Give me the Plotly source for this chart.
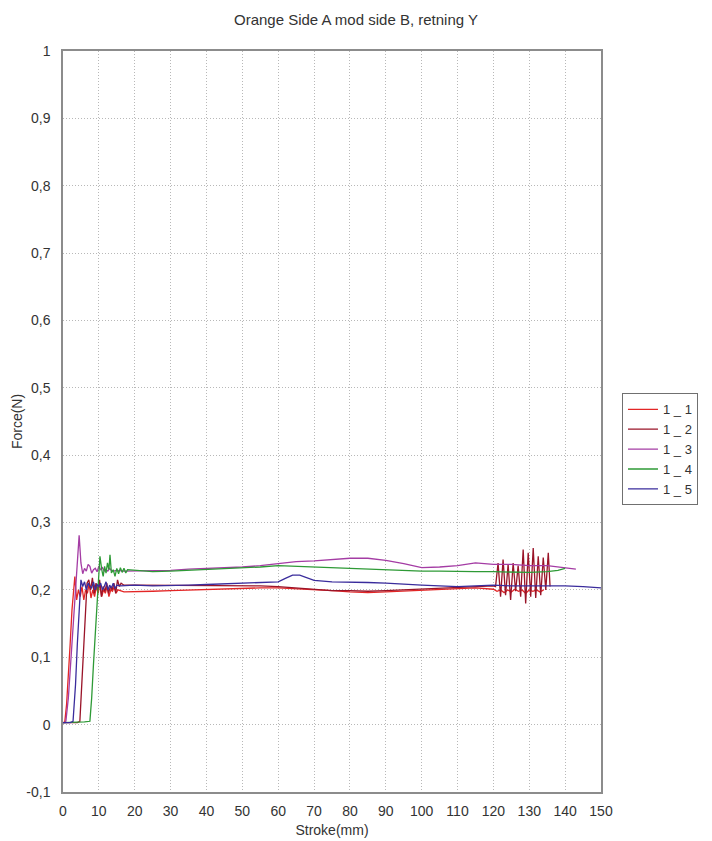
import plotly.graph_objects as go

# ---------------- data ----------------
names = ["1 _ 1", "1 _ 2", "1 _ 3", "1 _ 4", "1 _ 5"]
colors = ["#e32626", "#9a1428", "#a43ca4", "#2e9a36", "#3a2c9c"]

x_1_1 = [0, 0.5, 1, 1.5, 2, 2.5, 3, 3.3, 3.8, 4.3, 4.8, 5.3, 5.8, 6.3, 6.8, 7.3, 7.8, 8.3, 8.8, 9.3,
         9.8, 10.3, 10.8, 11.3, 11.8, 12.3, 12.8, 13.3, 13.8, 14.3, 14.8, 15.3, 17, 20, 25, 30, 35, 40,
         45, 50, 55, 60, 65, 70, 75, 80, 85, 90, 95, 100, 105, 110, 115, 120, 121, 122, 123, 124, 125,
         126, 127, 128, 129, 130, 131, 132, 133, 134]
y_1_1 = [0.003, 0.004, 0.03, 0.07, 0.12, 0.17, 0.205, 0.22, 0.185, 0.2, 0.19, 0.205, 0.185, 0.2, 0.195,
         0.21, 0.188, 0.2, 0.19, 0.205, 0.195, 0.21, 0.19, 0.2, 0.195, 0.205, 0.19, 0.2, 0.198, 0.205,
         0.195, 0.2, 0.197, 0.197, 0.198, 0.199, 0.2, 0.201, 0.201, 0.202, 0.203, 0.203, 0.202, 0.2,
         0.199, 0.197, 0.196, 0.197, 0.198, 0.2, 0.201, 0.202, 0.203, 0.201, 0.198, 0.2, 0.196, 0.2,
         0.197, 0.201, 0.198, 0.2, 0.195, 0.2, 0.198, 0.2, 0.197, 0.2]

x_1_2 = [0, 2, 4, 4.7, 5.2, 5.7, 6.2, 6.7, 7.2, 7.7, 8.2, 8.7, 9.2, 9.7, 10.2, 10.7, 11.2, 11.7, 12.2,
         12.7, 13.2, 13.7, 14.2, 14.7, 15.2, 15.7, 16.2, 17, 20, 25, 30, 35, 40, 45, 50, 55, 60, 65, 70,
         75, 80, 85, 90, 95, 100, 105, 110, 115, 120, 120.6, 121.3, 122, 122.7, 123.4, 124.1, 124.8,
         125.5, 126.2, 126.9, 127.6, 128.3, 129, 129.7, 130.4, 131.1, 131.8, 132.5, 133.2, 133.9,
         134.6, 135.3, 135.8]
y_1_2 = [0.003, 0.003, 0.003, 0.005, 0.06, 0.11, 0.16, 0.21, 0.215, 0.2, 0.218, 0.195, 0.21, 0.2, 0.215,
         0.19, 0.205, 0.198, 0.21, 0.195, 0.205, 0.2, 0.21, 0.195, 0.215, 0.205, 0.21, 0.207, 0.207,
         0.207, 0.206, 0.206, 0.207, 0.207, 0.206, 0.206, 0.205, 0.203, 0.2, 0.199, 0.199, 0.198, 0.199,
         0.2, 0.201, 0.203, 0.204, 0.205, 0.206, 0.205, 0.24, 0.19, 0.245, 0.192, 0.238, 0.185, 0.24,
         0.198, 0.236, 0.19, 0.26, 0.18, 0.255, 0.19, 0.262, 0.188, 0.25, 0.192, 0.248, 0.2, 0.255,
         0.205]

x_1_3 = [0, 0.5, 0.8, 1.5, 2, 2.5, 3, 3.5, 4, 4.5, 5, 5.5, 6, 6.5, 7, 7.5, 8, 8.5, 9, 9.5, 10, 10.5, 11,
         11.5, 12, 12.5, 13, 13.5, 14, 15, 17, 20, 25, 30, 35, 40, 45, 50, 55, 60, 65, 70, 75, 80, 85, 90,
         95, 100, 105, 110, 115, 120, 125, 130, 135, 140, 143]
y_1_3 = [0.003, 0.003, 0.005, 0.04, 0.08, 0.12, 0.16, 0.2, 0.24, 0.281, 0.24, 0.224, 0.232, 0.228, 0.238,
         0.235, 0.225, 0.23, 0.232, 0.227, 0.235, 0.23, 0.233, 0.228, 0.23, 0.228, 0.232, 0.229, 0.228,
         0.229, 0.228, 0.228, 0.229, 0.229, 0.231, 0.232, 0.232, 0.234, 0.236, 0.239, 0.242, 0.243, 0.245,
         0.247, 0.247, 0.244, 0.239, 0.233, 0.234, 0.236, 0.24, 0.238, 0.238, 0.236, 0.236, 0.233, 0.231]

x_1_4 = [0, 2, 4, 6, 7.5, 8, 8.5, 9, 9.5, 10, 10.3, 10.8, 11.2, 11.6, 12, 12.4, 12.8, 13.1, 13.5, 14,
         14.5, 15, 15.5, 16, 16.5, 17, 17.5, 18, 20, 25, 30, 35, 40, 45, 50, 55, 60, 65, 70, 75, 80, 85,
         90, 95, 100, 105, 110, 115, 120, 125, 130, 135, 138, 140]
y_1_4 = [0.003, 0.003, 0.003, 0.004, 0.005, 0.04, 0.09, 0.14, 0.19, 0.228, 0.25, 0.23, 0.22, 0.235,
         0.225, 0.24, 0.23, 0.252, 0.225, 0.23, 0.22, 0.232, 0.224, 0.233, 0.226, 0.232, 0.225, 0.23,
         0.229, 0.227, 0.228, 0.229, 0.23, 0.231, 0.232, 0.234, 0.236, 0.235, 0.233, 0.232, 0.231, 0.231,
         0.23, 0.229, 0.228, 0.228, 0.227, 0.227, 0.227, 0.226, 0.226, 0.227, 0.229, 0.232]

x_1_5 = [0, 1, 2, 2.8, 3.5, 4, 4.5, 5, 5.5, 6, 6.5, 7, 7.5, 8, 8.5, 9, 9.5, 10, 10.5, 11, 11.5, 12, 12.5,
         13, 13.5, 14, 14.5, 15, 16, 20, 25, 30, 35, 40, 45, 50, 55, 60, 62, 64, 66, 68, 70, 75, 80, 85,
         90, 95, 100, 105, 110, 115, 120, 125, 130, 135, 140, 145, 150]
y_1_5 = [0.003, 0.003, 0.003, 0.005, 0.06, 0.12, 0.17, 0.215, 0.205, 0.212, 0.2, 0.21, 0.205, 0.203,
         0.212, 0.2, 0.208, 0.205, 0.21, 0.2, 0.205, 0.212, 0.2, 0.207, 0.203, 0.21, 0.202, 0.207, 0.206,
         0.207, 0.206, 0.206, 0.207, 0.208, 0.209, 0.21, 0.21, 0.212, 0.217, 0.222, 0.222, 0.218, 0.214,
         0.212, 0.212, 0.211, 0.21, 0.208, 0.207, 0.206, 0.205, 0.206, 0.207, 0.206, 0.206, 0.207, 0.206,
         0.205, 0.203]

xs = [x_1_1, x_1_2, x_1_3, x_1_4, x_1_5]
ys = [y_1_1, y_1_2, y_1_3, y_1_4, y_1_5]

x_ticks = [0, 10, 20, 30, 40, 50, 60, 70, 80, 90, 100, 110, 120, 130, 140, 150]
y_ticks = [-0.1, 0, 0.1, 0.2, 0.3, 0.4, 0.5, 0.6, 0.7, 0.8, 0.9, 1]
y_tick_text = ["-0,1", "0", "0,1", "0,2", "0,3", "0,4", "0,5", "0,6", "0,7", "0,8", "0,9", "1"]

title_text = "Orange Side A mod side B, retning Y"
x_title = "Stroke(mm)"
y_title = "Force(N)"

# ---------------- figure ----------------
FONT = "Liberation Sans, Arial, sans-serif"
fig = go.Figure()
for n, c, x, y in zip(names, colors, xs, ys):
    fig.add_trace(go.Scatter(x=x, y=y, name=n, mode="lines",
                             line=dict(color=c, width=1.3)))

axis_common = dict(showline=True, linecolor="#8c8c8c", linewidth=1.5, mirror=True,
                   showgrid=True, gridcolor="#b8b8b8", griddash="1px,2px", gridwidth=1,
                   zeroline=False, ticks="outside", tickcolor="rgba(0,0,0,0)",
                   tickfont=dict(family=FONT, size=14, color="#333333"))

fig.update_xaxes(range=[0, 150], tickvals=x_ticks, ticklen=5,
                 title=dict(text=x_title, font=dict(family=FONT, size=14, color="#333333"), standoff=8),
                 **axis_common)
fig.update_yaxes(range=[-0.1, 1], tickvals=y_ticks, ticktext=y_tick_text, ticklen=8,
                 title=dict(text=y_title, font=dict(family=FONT, size=14, color="#333333"), standoff=0),
                 **axis_common)

fig.update_layout(
    width=712, height=841,
    margin=dict(l=63, r=111, t=51, b=49, autoexpand=False),
    paper_bgcolor="white", plot_bgcolor="white",
    font=dict(family=FONT, size=14, color="#333333"),
    title=dict(text=title_text, x=0.5, xref="container", xanchor="center",
               y=1 - 20 / 841, yref="container", yanchor="middle",
               font=dict(family=FONT, size=15, color="#333333")),
    showlegend=True,
    legend=dict(x=1.039, xanchor="left", y=0.538, yanchor="top",
                bordercolor="#707070", borderwidth=1, bgcolor="white",
                font=dict(family=FONT, size=13, color="#333333"),
                tracegroupgap=0, itemwidth=30),
)

fig.write_html("out.html")
